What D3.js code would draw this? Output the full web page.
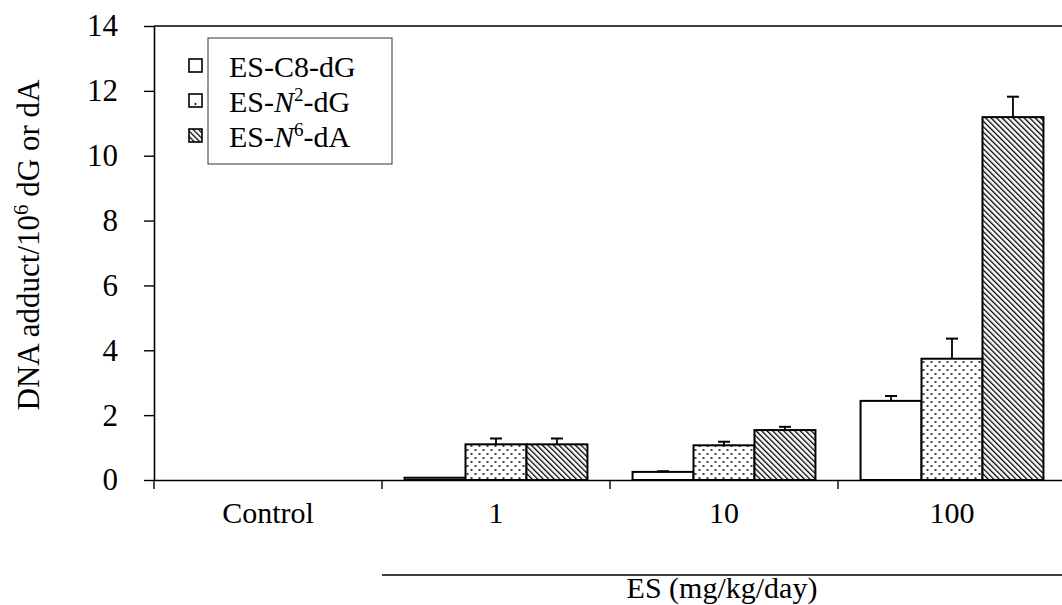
<!DOCTYPE html>
<html>
<head>
<meta charset="utf-8">
<script src="https://cdn.jsdelivr.net/npm/d3@7"></script>
<style>
  body { margin: 0; background: #fff; }
  svg text { font-family: "Liberation Serif", "Times New Roman", "DejaVu Serif", serif !important; }
</style>
</head>
<body>
<script>
// dose groups and the three adducts
const groups = ["Control", "1", "10", "100"];
const series = ["c8", "n2", "n6"];
const c8 = [0, 0.07, 0.25, 2.44];
const c8Err = [0, 0, 0.02, 0.15];
const n2 = [0, 1.1, 1.07, 3.74];
const n2Err = [0, 0.18, 0.11, 0.62];
const n6 = [0, 1.1, 1.54, 11.19];
const n6Err = [0, 0.18, 0.1, 0.63];
const yTicks = [0, 2, 4, 6, 8, 10, 12, 14];

const width = 1062, height = 605;
const margin = {top: 26, left: 154, bottom: 125};

const values = {c8, n2, n6};
const errors = {c8: c8Err, n2: n2Err, n6: n6Err};
const data = groups.flatMap((g, i) => series.map(s => ({group: g, key: s, value: values[s][i], err: errors[s][i]})));

const svg = d3.select("body").append("svg")
    .attr("width", width)
    .attr("height", height);

const defs = svg.append("defs");

// staggered dots
const dots = defs.append("pattern")
    .attr("id", "dots")
    .attr("patternUnits", "userSpaceOnUse")
    .attr("width", 8).attr("height", 8);
dots.append("rect").attr("width", 8).attr("height", 8).attr("fill", "#fff");
dots.append("circle").attr("cx", 2).attr("cy", 2).attr("r", 1).attr("fill", "#000");
dots.append("circle").attr("cx", 6).attr("cy", 6).attr("r", 1).attr("fill", "#000");

// back-slash hatching
const hatch = defs.append("pattern")
    .attr("id", "hatch")
    .attr("patternUnits", "userSpaceOnUse")
    .attr("width", 3.9).attr("height", 3.9)
    .attr("patternTransform", "rotate(-45)");
hatch.append("rect").attr("width", 3.9).attr("height", 3.9).attr("fill", "#fff");
hatch.append("line").attr("x1", 0).attr("x2", 0).attr("y1", 0).attr("y2", 3.9)
    .attr("stroke", "#000").attr("stroke-width", 2.6);

const fill = {c8: "#fff", n2: "url(#dots)", n6: "url(#hatch)"};

const x = d3.scaleBand()
    .domain(groups)
    .range([margin.left, margin.left + 4 * 228]);

const xs = d3.scaleBand()
    .domain(series)
    .range([0, x.bandwidth()])
    .paddingInner(0)
    .paddingOuter(0.37);

const y = d3.scaleLinear()
    .domain([0, 14])
    .range([height - margin.bottom, margin.top]);

// y axis
svg.append("g")
    .attr("transform", `translate(${margin.left},0)`)
    .call(d3.axisLeft(y).tickValues(yTicks).tickSize(10).tickPadding(26).tickSizeOuter(0))
    .call(g => g.select(".domain").attr("stroke-width", 1.6))
    .call(g => g.selectAll(".tick line").attr("stroke-width", 1.4))
    .call(g => g.selectAll(".tick text").attr("font-size", 31).attr("fill", "#000"));

// top frame line
svg.append("line")
    .attr("x1", margin.left).attr("x2", x.range()[1])
    .attr("y1", y(14)).attr("y2", y(14))
    .attr("stroke", "#000").attr("stroke-width", 1.6);

// bars
const bars = svg.append("g")
  .selectAll("g")
  .data(data.filter(d => d.value > 0))
  .join("g")
    .attr("transform", d => `translate(${x(d.group) + xs(d.key)},0)`);

bars.append("rect")
    .attr("y", d => y(d.value))
    .attr("width", xs.bandwidth())
    .attr("height", d => y(0) - y(d.value))
    .attr("fill", d => fill[d.key])
    .attr("stroke", "#000")
    .attr("stroke-width", 2);

const eb = bars.filter(d => d.err > 0);
eb.append("line")
    .attr("x1", xs.bandwidth() / 2).attr("x2", xs.bandwidth() / 2)
    .attr("y1", d => y(d.value)).attr("y2", d => y(d.value + d.err))
    .attr("stroke", "#000").attr("stroke-width", 1.8);
eb.append("line")
    .attr("x1", xs.bandwidth() / 2 - 6).attr("x2", xs.bandwidth() / 2 + 6)
    .attr("y1", d => y(d.value + d.err)).attr("y2", d => y(d.value + d.err))
    .attr("stroke", "#000").attr("stroke-width", 2);

// x axis: labels at group centres, ticks at group boundaries
svg.append("g")
    .attr("transform", `translate(0,${y(0)})`)
    .call(d3.axisBottom(x).tickSize(0).tickPadding(22).tickSizeOuter(0))
    .call(g => g.select(".domain").attr("stroke-width", 1.6))
    .call(g => g.selectAll(".tick text").attr("font-size", 30).attr("fill", "#000"))
    .call(g => g.selectAll(".bound")
      .data(groups)
      .join("line")
        .attr("class", "bound")
        .attr("x1", d => x(d)).attr("x2", d => x(d))
        .attr("y1", 0).attr("y2", 9)
        .attr("stroke", "#000").attr("stroke-width", 1.4));

// dose bracket
svg.append("line")
    .attr("x1", x("1")).attr("x2", x.range()[1])
    .attr("y1", 575).attr("y2", 575)
    .attr("stroke", "#000").attr("stroke-width", 1.4);

svg.append("text")
    .attr("x", 722).attr("y", 598)
    .attr("text-anchor", "middle")
    .attr("font-size", 30)
    .text("ES (mg/kg/day)");

// y label
const yl = svg.append("text")
    .attr("transform", `translate(39,245) rotate(-90)`)
    .attr("text-anchor", "middle")
    .attr("font-size", 31);
yl.append("tspan").text("DNA adduct/10");
yl.append("tspan").attr("font-size", 21).attr("dy", -11).text("6");
yl.append("tspan").attr("dy", 11).text(" dG or dA");

// legend
const legendItems = [
  {key: "c8", parts: [["ES-C8-dG", null]]},
  {key: "n2", parts: [["ES-", null], ["N", "i"], ["2", "s"], ["-dG", null]]},
  {key: "n6", parts: [["ES-", null], ["N", "i"], ["6", "s"], ["-dA", null]]}
];

const legend = svg.append("g");
legend.append("rect")
    .attr("x", 208).attr("y", 38)
    .attr("width", 184).attr("height", 126)
    .attr("fill", "none").attr("stroke", "#333").attr("stroke-width", 1);

const li = legend.selectAll("g.item")
  .data(legendItems)
  .join("g")
    .attr("class", "item")
    .attr("transform", (d, i) => `translate(0,${77 + i * 35})`);

li.append("rect")
    .attr("x", 189).attr("y", -18)
    .attr("width", 13).attr("height", 13)
    .attr("fill", d => d.key === "n6" ? "url(#hatch)" : "#fff")
    .attr("stroke", "#000").attr("stroke-width", 1.6);

li.filter(d => d.key === "n2").append("circle")
    .attr("cx", 195.5).attr("cy", -8).attr("r", 1).attr("fill", "#000");

li.append("text")
    .attr("x", 229)
    .attr("font-size", 30)
    .each(function(d) {
      const t = d3.select(this);
      d.parts.forEach(([s, kind], j) => {
        const sp = t.append("tspan").text(s);
        if (kind === "i") sp.attr("font-style", "italic");
        if (kind === "s") sp.attr("font-size", 19).attr("dy", -11);
        if (j > 0 && d.parts[j - 1][1] === "s") sp.attr("dy", 11);
      });
    });
</script>
</body>
</html>
